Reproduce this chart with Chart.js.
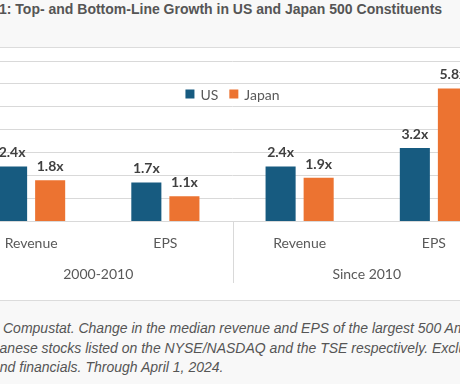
<!DOCTYPE html>
<html lang="en">
<head>
<meta charset="UTF-8">
<title>Top- and Bottom-Line Growth</title>
<script src="https://cdn.jsdelivr.net/npm/chart.js"></script>
<style>
  html, body { margin: 0; padding: 0; width: 460px; height: 384px; overflow: hidden; background: #fff; }
  .head { position: absolute; left: 0; top: 0; width: 460px; height: 47px; background: #f8f8f8; border-bottom: 1px solid #dcdcdc; }
  .head h1 { margin: 0; position: absolute; left: -1px; top: 0; font: bold 14px/18px Arial, "Liberation Sans", sans-serif; color: #555; white-space: nowrap; }
  .chart-box { position: absolute; left: 0; top: 48px; width: 460px; height: 252px; overflow: hidden; background: #fff; }
  #growth-chart { position: absolute; left: -36px; top: 0; }
  .notes { position: absolute; left: 0; top: 300px; width: 460px; height: 84px; background: #f8f8f8; border-top: 1px solid #dcdcdc; overflow: hidden; }
  .notes p { margin: 0; position: absolute; left: 3px; white-space: nowrap; font: italic 14px/20px Arial, "Liberation Sans", sans-serif; color: #555; }
</style>
</head>
<body>
  <div class="head">
    <h1>1: Top- and Bottom-Line Growth in US and Japan 500 Constituents</h1>
  </div>
  <div class="chart-box">
    <canvas id="growth-chart" width="537" height="252"></canvas>
  </div>
  <div class="notes">
    <p style="top:17px">Compustat. Change in the median revenue and EPS of the largest 500 American</p>
    <p style="top:37px" class="cut-line"><span class="cut">Jap</span>anese stocks listed on the NYSE/NASDAQ and the TSE respectively. Excluding</p>
    <p style="top:56px" class="cut-line"><span class="cut">a</span>nd financials. Through April 1, 2024.</p>
  </div>

<script>
// data
const categories = ["Revenue", "EPS", "Revenue", "EPS"];
const periods = ["2000-2010", "Since 2010"];
const usGrowth = [2.4, 1.7, 2.4, 3.2];
const japanGrowth = [1.8, 1.1, 1.9, 5.8];

const US_COLOR = "#175b80";
const JP_COLOR = "#ec7331";
const GRID = "#d9d9d9";

// footnote lines are cropped on the left
document.querySelectorAll(".cut-line").forEach(p => {
    const cut = p.querySelector(".cut");
    p.style.left = (-cut.offsetWidth) + "px";
});

// value labels above each bar
const barLabels = {
    id: "barLabels",
    afterDatasetsDraw(chart) {
        const ctx = chart.ctx;
        ctx.save();
        ctx.font = "bold 14px Lato";
        ctx.fillStyle = "#404040";
        ctx.textAlign = "center";
        ctx.textBaseline = "alphabetic";
        chart.data.datasets.forEach((ds, i) => {
            chart.getDatasetMeta(i).data.forEach((bar, j) => {
                ctx.fillText(ds.data[j].toFixed(1) + "x", bar.x, bar.y - 9);
            });
        });
        ctx.restore();
    }
};

// legend sits inside the plot area
const innerLegend = {
    id: "innerLegend",
    afterDraw(chart) {
        const ctx = chart.ctx;
        const area = chart.chartArea;
        ctx.save();
        ctx.font = "14px Lato";
        ctx.textBaseline = "middle";
        const box = 9, gap = 6, spacing = 11;
        const items = chart.data.datasets.map(ds => ({
            text: ds.label, color: ds.backgroundColor, w: ctx.measureText(ds.label).width
        }));
        const total = items.reduce((s, it) => s + box + gap + it.w, 0) + spacing * (items.length - 1);
        let x = (area.left + area.right) / 2 - total / 2;
        const y = area.top + 33;
        items.forEach(it => {
            ctx.fillStyle = it.color;
            ctx.fillRect(x, y - box / 2, box, box);
            x += box + gap;
            ctx.fillStyle = "#595959";
            ctx.fillText(it.text, x, y + 1);
            x += it.w + spacing;
        });
        ctx.restore();
    }
};

// vertical divider between the two periods
const periodDivider = {
    id: "periodDivider",
    afterDraw(chart) {
        const ctx = chart.ctx;
        const x = chart.scales.x;
        const half = categories.length / periods.length;
        ctx.save();
        ctx.strokeStyle = GRID;
        ctx.lineWidth = 1;
        for (let g = 1; g < periods.length; g++) {
            const px = Math.round((x.getPixelForValue(g * half - 1) + x.getPixelForValue(g * half)) / 2) + 0.5;
            ctx.beginPath();
            ctx.moveTo(px, chart.chartArea.bottom);
            ctx.lineTo(px, chart.scales.x2.bottom);
            ctx.stroke();
        }
        ctx.restore();
    }
};

new Chart(document.getElementById("growth-chart"), {
    type: "bar",
    data: {
        labels: categories,
        datasets: [
            { label: "US", data: usGrowth, backgroundColor: US_COLOR },
            { label: "Japan", data: japanGrowth, backgroundColor: JP_COLOR }
        ]
    },
    options: {
        responsive: false,
        animation: false,
        devicePixelRatio: 1,
        categoryPercentage: 0.567,
        barPercentage: 0.79,
        layout: { padding: { top: 13, bottom: 17, left: 0, right: 0 } },
        plugins: {
            legend: { display: false },
            tooltip: { enabled: false }
        },
        scales: {
            y: {
                min: 0,
                max: 7,
                ticks: { display: false, stepSize: 1 },
                grid: { color: GRID, drawTicks: false },
                border: { display: false }
            },
            x: {
                weight: 0,
                grid: { display: false, drawTicks: false },
                border: { display: true, color: GRID },
                ticks: { padding: 14, color: "#595959", font: { family: "Lato", size: 14 } }
            },
            x2: {
                type: "category",
                position: "bottom",
                weight: 1,
                labels: periods,
                offset: true,
                grid: { display: false, drawTicks: false },
                border: { display: false },
                ticks: { padding: 0, color: "#595959", font: { family: "Lato", size: 14 } }
            }
        }
    },
    plugins: [barLabels, innerLegend, periodDivider]
});
</script>
</body>
</html>
